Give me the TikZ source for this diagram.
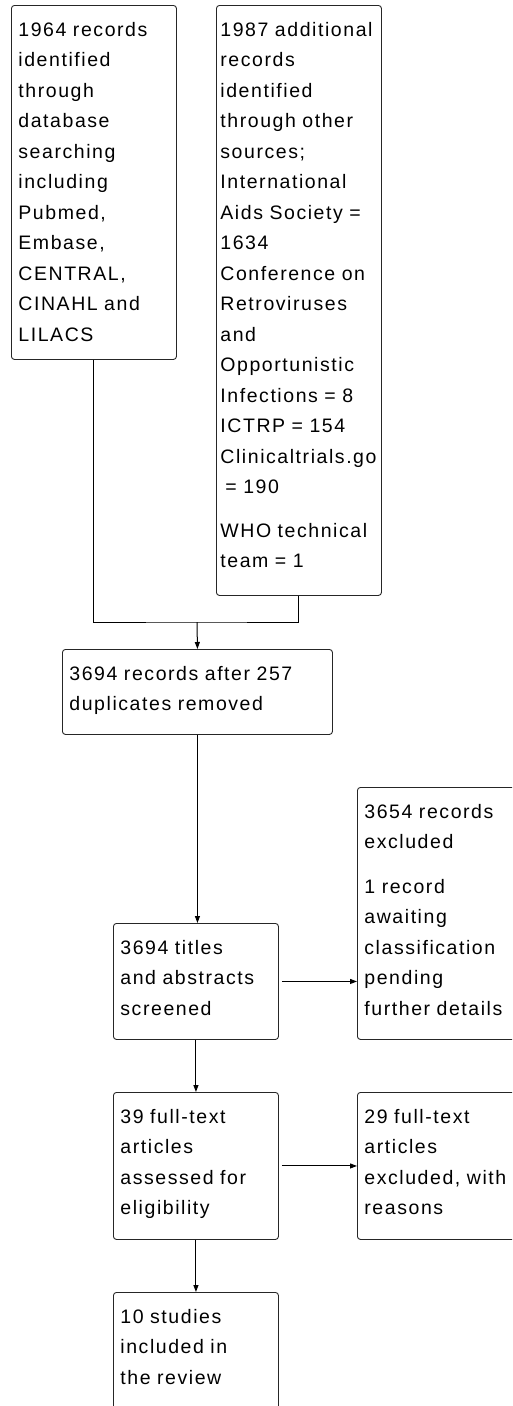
\documentclass[tikz,border=0pt]{standalone}
\usepackage{fontspec}
\setmainfont{Liberation Sans}[LetterSpace=8]
\usetikzlibrary{arrows.meta, positioning}

\begin{document}
\begin{tikzpicture}[
    x=1pt, y=-1pt,
    stagebox/.style={draw=black!85, line width=0.9pt, rounded corners=3pt, anchor=north west,
        align=left, text width=151pt, inner xsep=7pt, inner ysep=0pt, text height=31pt,
        font=\fontsize{19.5pt}{30.5pt}\selectfont},
    link/.style={line width=1pt},
    flow/.style={-{Triangle[length=7pt, width=5pt]}, line width=1pt}
]
\useasboundingbox (0,0) rectangle (512,1406);
\clip (0,0) rectangle (512,1406);

% Identification
\node[stagebox, text depth=323pt] (search) at (11,5)
    {1964 records\\identified\\through\\database\\searching\\including\\Pubmed,\\Embase,\\CENTRAL,\\CINAHL and\\LILACS};
\node[stagebox, inner xsep=4pt, text width=157pt, text depth=559pt] (other) at (216,5)
    {1987 additional\\records\\identified\\through other\\sources;\\International\\Aids Society =\\1634\\Conference on\\Retroviruses\\and\\Opportunistic\\Infections = 8\\ICTRP = 154\\Clinicaltrials.go\\\hspace*{5pt}= 190\\[13pt]WHO technical\\team = 1};

% Screening
\node[stagebox, text width=256pt, text depth=54pt] (dedup) at (62,649)
    {3694 records after 257\\duplicates removed};
\node[stagebox, text depth=85pt] (screened) at (113,923)
    {3694 titles\\and abstracts\\screened};
\node[stagebox, text depth=221pt] (excluded) at (357,787)
    {3654 records\\excluded\\[14pt]1 record\\awaiting\\classification\\pending\\further details};

% Eligibility
\node[stagebox, text depth=116pt] (fulltext) at (113,1092)
    {39 full-text\\articles\\assessed for\\eligibility};
\node[stagebox, text depth=116pt] (ftexcluded) at (357,1092)
    {29 full-text\\articles\\excluded, with\\reasons};

% Included
\node[stagebox, text depth=140pt] (included) at (113,1292)
    {10 studies\\included in\\the review};

% Connectors
\coordinate (merge) at (197,622);
\draw[link] (search.south) |- (merge) -| (other.south);
\draw[flow] (merge) -- (dedup.north);
\draw[flow] (dedup.south) -- (dedup.south |- screened.north);
\draw[flow, shorten <=3pt] (screened.east) -- (excluded.west |- screened.east);
\draw[flow] (screened.south) -- (fulltext.north);
\draw[flow, shorten <=3pt] (fulltext.east) -- (ftexcluded.west |- fulltext.east);
\draw[flow] (fulltext.south) -- (included.north);

\end{tikzpicture}
\end{document}
